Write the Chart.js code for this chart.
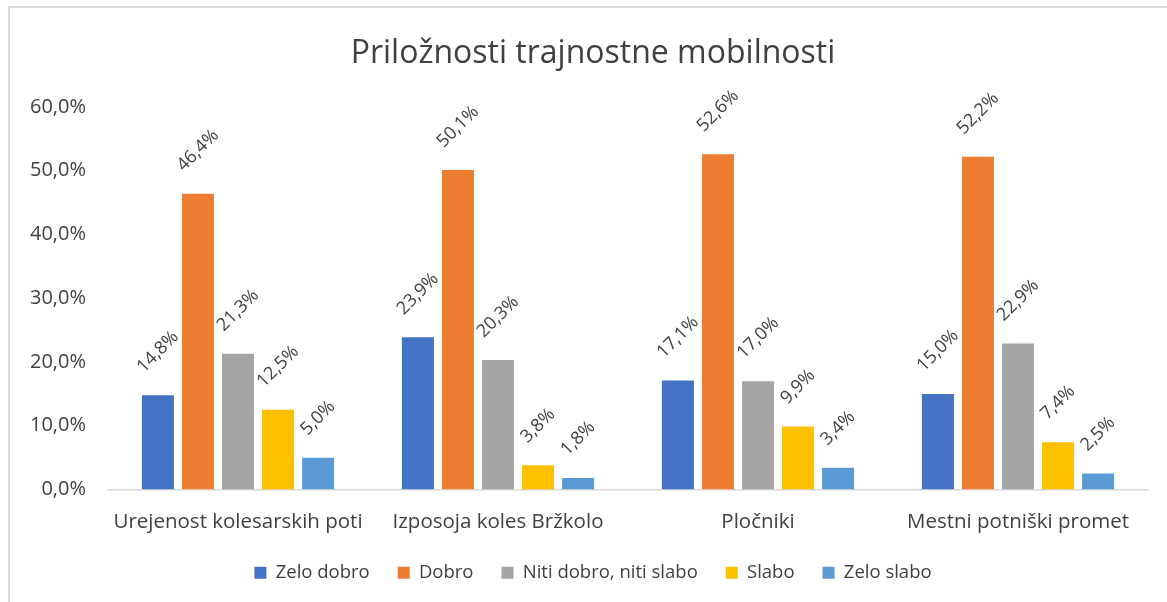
<!DOCTYPE html>
<html>
<head>
<meta charset="utf-8">
<script src="https://cdn.jsdelivr.net/npm/chart.js@4.4.0/dist/chart.umd.min.js"></script>
<style>
  body { margin: 0; background: #fff; overflow: hidden; }
  #wrap { position: relative; width: 1167px; height: 602px; }
  #frame {
    position: absolute; left: 8px; top: 6px; width: 1200px; height: 700px;
    border-left: 2px solid #d9d9d9; border-top: 2px solid #d9d9d9;
    pointer-events: none;
  }
</style>
</head>
<body>
<div id="wrap">
  <canvas id="chart" width="1167" height="602"></canvas>
  <div id="frame"></div>
</div>
<script>
// Data
const categories = ["Urejenost kolesarskih poti", "Izposoja koles Bržkolo", "Pločniki", "Mestni potniški promet"];
const seriesNames = ["Zelo dobro", "Dobro", "Niti dobro, niti slabo", "Slabo", "Zelo slabo"];
const zeloDobro = [14.8, 23.9, 17.1, 15.0];
const dobro = [46.4, 50.1, 52.6, 52.2];
const nitiNiti = [21.3, 20.3, 17.0, 22.9];
const slabo = [12.5, 3.8, 9.9, 7.4];
const zeloSlabo = [5.0, 1.8, 3.4, 2.5];
const yTicks = [0, 10, 20, 30, 40, 50, 60];

const colors = ["#4472C4", "#ED7D31", "#A5A5A5", "#FFC000", "#5B9BD5"];
const seriesValues = [zeloDobro, dobro, nitiNiti, slabo, zeloSlabo];
const FONT = "'Open Sans'";

function fmt(v) {
    return v.toFixed(1).replace(".", ",") + "%";
}

// rotated value labels above each bar
const barLabels = {
    id: "barLabels",
    afterDatasetsDraw(chart) {
        const ctx = chart.ctx;
        const size = 18;
        ctx.save();
        ctx.font = size + "px " + FONT;
        ctx.fillStyle = "#404040";
        ctx.textAlign = "center";
        ctx.textBaseline = "middle";
        chart.data.datasets.forEach((ds, i) => {
            const meta = chart.getDatasetMeta(i);
            meta.data.forEach((bar, j) => {
                const text = fmt(ds.data[j]);
                const w = ctx.measureText(text).width;
                const ext = (w + size) * 0.7071;
                const cx = bar.x;
                const cy = bar.y - 19 - ext / 2;
                ctx.save();
                ctx.translate(cx, cy);
                ctx.rotate(-Math.PI / 4);
                ctx.fillText(text, 0, 0);
                ctx.restore();
            });
        });
        ctx.restore();
    }
};

const chart = new Chart(document.getElementById("chart"), {
    type: "bar",
    data: {
        labels: categories,
        datasets: seriesNames.map((name, i) => ({
            label: name,
            data: seriesValues[i],
            backgroundColor: colors[i],
            categoryPercentage: 0.77,
            barPercentage: 0.8
        }))
    },
    options: {
        responsive: false,
        animation: false,
        layout: { padding: { left: 38, right: 19, top: 6, bottom: 10 } },
        plugins: {
            title: {
                display: true,
                text: "Priložnosti trajnostne mobilnosti",
                color: "#404040",
                font: { family: FONT, size: 32, weight: "normal", lineHeight: 1.2 },
                padding: { top: 29, bottom: 33.6 }
            },
            legend: {
                position: "bottom",
                labels: {
                    boxWidth: 12,
                    boxHeight: 12,
                    padding: 28,
                    color: "#404040",
                    font: { family: FONT, size: 18.5 }
                }
            },
            tooltip: { enabled: false }
        },
        scales: {
            x: {
                grid: { display: false, drawTicks: false },
                border: { display: true, color: "#d9d9d9", width: 1.5 },
                ticks: {
                    color: "#404040",
                    padding: 20,
                    maxRotation: 0,
                    font: { family: FONT, size: 20.5 }
                },
                afterFit: (scale) => { scale.height = 46; }
            },
            y: {
                min: 0,
                max: 60,
                grid: { display: false, drawTicks: false },
                border: { display: false },
                afterBuildTicks: (scale) => { scale.ticks = yTicks.map(v => ({ value: v })); },
                ticks: {
                    color: "#404040",
                    padding: 22,
                    font: { family: FONT, size: 20 },
                    callback: (v) => fmt(v)
                },
                afterFit: (scale) => {
                    scale.width = 70;
                    // labels are wider than the axis box, don't clip them
                    scale._computeLabelArea = () => undefined;
                }
            }
        }
    },
    plugins: [barLabels]
});
</script>
</body>
</html>
